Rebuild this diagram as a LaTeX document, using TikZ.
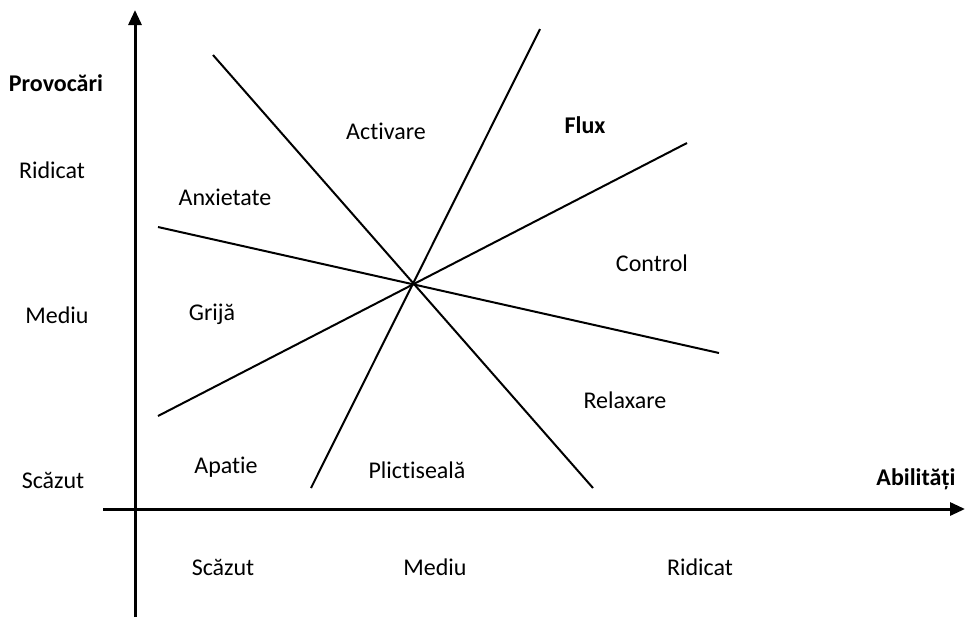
\documentclass[tikz,border=0pt]{standalone}
\usepackage{fontspec}
\setmainfont[Ligatures=NoCommon,RawFeature=-liga]{Carlito}
\usetikzlibrary{arrows.meta}
\begin{document}
\begin{tikzpicture}[x=0.5pt,y=-0.5pt,
  axis/.style={line width=1.5pt,-{Triangle[length=7.5pt,width=6.5pt]}},
  divider/.style={line width=1pt},
  lbl/.style={anchor=base,inner sep=0pt,font=\fontsize{12}{14}\selectfont},
  hd/.style={anchor=base,inner sep=0pt,font=\fontsize{12}{14}\selectfont\bfseries}]
\useasboundingbox (0,0) rectangle (965,618);

% axes
\coordinate (yb) at (135,617);
\coordinate (yt) at (135,10);
\coordinate (xl) at (103,509);
\coordinate (xr) at (965,509);
\draw[axis] (yb) -- (yt);
\draw[axis] (xl) -- (xr);

% four dividers crossing at one point
\coordinate (a1) at (213,55);  \coordinate (a2) at (593,488);
\coordinate (b1) at (540,29);  \coordinate (b2) at (311,488);
\coordinate (c1) at (158,227); \coordinate (c2) at (719,353);
\coordinate (d1) at (158,416); \coordinate (d2) at (687,143);
\draw[divider] (a1) -- (a2);
\draw[divider] (b1) -- (b2);
\draw[divider] (c1) -- (c2);
\draw[divider] (d1) -- (d2);

% axis titles
\node[hd] (ytitle) at (56,91) {Provocări};
\node[hd] (xtitle) at (916,485) {Abilități};

% levels on the vertical axis
\node[lbl] (yhi) at (52,178) {Ridicat};
\node[lbl] (ymid) at (57,323) {Mediu};
\node[lbl] (ylo) at (53,488) {Scăzut};

% levels on the horizontal axis
\node[lbl] (xlo) at (223,575) {Scăzut};
\node[lbl] (xmid) at (435,575) {Mediu};
\node[lbl] (xhi) at (700,575) {Ridicat};

% states
\node[lbl] (anx) at (225,205) {Anxietate};
\node[lbl] (act) at (386,139) {Activare};
\node[hd]  (flux) at (585,133) {Flux};
\node[lbl] (ctrl) at (652,271) {Control};
\node[lbl] (grija) at (212,320) {Grijă};
\node[lbl] (relax) at (625,408) {Relaxare};
\node[lbl] (apat) at (226,473) {Apatie};
\node[lbl] (plic) at (417,478) {Plictiseală};
\end{tikzpicture}
\end{document}
